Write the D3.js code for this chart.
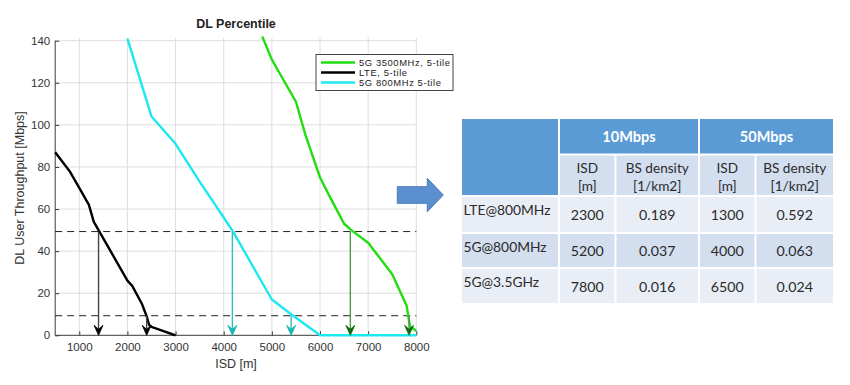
<!DOCTYPE html>
<html><head><meta charset="utf-8">
<script src="https://cdn.jsdelivr.net/npm/d3@7"></script>
<style>body{margin:0;background:#fff;}svg{display:block;}</style>
</head><body>
<svg id="c" width="850" height="385"></svg>
<script>
// ---- data ----
const lteISD = [500, 800, 1050, 1200, 1300, 1400, 1600, 2000, 2100, 2300, 2400, 2450, 2500, 3000];
const lteThr = [87, 78, 68, 62, 54, 50, 42, 26, 23.5, 15, 9, 5, 4, 0];
const g800ISD = [2000, 2500, 3000, 3500, 4000, 4200, 4500, 5000, 5400, 6000, 8000];
const g800Thr = [141, 104, 91, 73, 56, 49, 37, 17, 10, 0, 0];
const g3500ISD = [4800, 5000, 5200, 5500, 5700, 6000, 6200, 6500, 6650, 7000, 7500, 7800, 7870, 7920, 8000];
const g3500Thr = [142, 131, 123, 111, 95, 75, 66, 53, 50, 44, 29, 14, 4, 3.5, 2];
const seriesNames = ["5G 3500MHz, 5-tile", "LTE,  5-tile", "5G 800MHz 5-tile"];
const thresholds = [49.3, 9.3];
const arrowISD = [1400, 2400, 4180, 5400, 6630, 7850];
const arrowFrom = [49.3, 9.3, 49.3, 9.3, 49.3, 9.3];
const xTicks = [1000, 2000, 3000, 4000, 5000, 6000, 7000, 8000];
const yTicks = [0, 20, 40, 60, 80, 100, 120, 140];

const tableHeader1 = ["10Mbps", "50Mbps"];
const tableHeader2 = [["ISD", "[m]"], ["BS density", "[1/km2]"], ["ISD", "[m]"], ["BS density", "[1/km2]"]];
const rowLabels = ["LTE@800MHz", "5G@800MHz", "5G@3.5GHz"];
const isd10 = ["2300", "5200", "7800"];
const dens10 = ["0.189", "0.037", "0.016"];
const isd50 = ["1300", "4000", "6500"];
const dens50 = ["0.592", "0.063", "0.024"];

// ---- chart ----
const svg = d3.select("#c");
const x = d3.scaleLinear().domain([500, 8000]).range([55.2, 416.3]);
const y = d3.scaleLinear().domain([0, 140]).range([335.3, 40.7]);
const font = "'Liberation Sans', Arial, sans-serif";

const g = svg.append("g");
// grid
g.append("g").selectAll("line").data(xTicks).join("line")
  .attr("x1", d => x(d)).attr("x2", d => x(d)).attr("y1", y(0)).attr("y2", y(141.5))
  .attr("stroke", "#dedede").attr("stroke-width", 1);
g.append("g").selectAll("line").data(yTicks.filter(d => d > 0)).join("line")
  .attr("x1", x(500)).attr("x2", x(8000)).attr("y1", d => y(d)).attr("y2", d => y(d))
  .attr("stroke", "#dedede").attr("stroke-width", 1);

// axes
const xAxis = d3.axisBottom(x).tickValues(xTicks).tickSize(-4).tickPadding(8).tickFormat(d3.format("d"));
const yAxis = d3.axisLeft(y).tickValues(yTicks).tickSize(-4).tickPadding(5);
const gx = g.append("g").attr("transform", `translate(0,${y(0)})`).call(xAxis);
const gy = g.append("g").attr("transform", `translate(${x(500)},0)`).call(yAxis);
[gx, gy].forEach(a => {
  a.select(".domain").attr("stroke", "#3a3a3a").attr("stroke-width", 1);
  a.selectAll(".tick line").attr("stroke", "#3a3a3a");
  a.selectAll("text").attr("font-family", font).attr("font-size", 11.5).attr("fill", "#333");
});
gx.select(".domain").attr("d", `M${x(500)},0H${x(8000)}`);
gy.select(".domain").attr("d", `M0,${y(0)}V${y(140)}`);

// dashed thresholds
g.append("g").selectAll("line").data(thresholds).join("line")
  .attr("x1", x(500)).attr("x2", x(8000)).attr("y1", d => y(d)).attr("y2", d => y(d))
  .attr("stroke", "#222").attr("stroke-width", 1).attr("stroke-dasharray", "7,5");

// series
const line = d3.line().x(d => x(d[0])).y(d => y(d[1]));
const series = [
  {isd: g800ISD, thr: g800Thr, color: "#1de8f0"},
  {isd: lteISD, thr: lteThr, color: "#000000"},
  {isd: g3500ISD, thr: g3500Thr, color: "#22dd10"}
];
series.forEach(s => {
  g.append("path").datum(d3.zip(s.isd, s.thr)).attr("d", line)
    .attr("fill", "none").attr("stroke", s.color).attr("stroke-width", 2.4)
    .attr("stroke-linejoin", "round");
});

// vertical arrows
const arrowLine = ["#444", "#444", "#33bdbd", "#33bdbd", "#4d9a4d", "#4d9a4d"];
const arrowHead = ["#000", "#000", "#14b5b5", "#14b5b5", "#0f6a0f", "#0f6a0f"];
arrowISD.forEach((v, i) => {
  const ax = x(v);
  g.append("line").attr("x1", ax).attr("x2", ax).attr("y1", y(arrowFrom[i])).attr("y2", y(0) - 4)
    .attr("stroke", arrowLine[i]).attr("stroke-width", 1.4);
  g.append("path").attr("transform", `translate(${ax},${y(0)})`)
    .attr("d", "M0,0L-4.5,-10L0,-6L4.5,-10Z").attr("fill", arrowHead[i])
    .attr("stroke", arrowHead[i]).attr("stroke-width", 0.8).attr("stroke-linejoin", "round");
});

// title and labels
svg.append("text").attr("x", 236).attr("y", 28).attr("text-anchor", "middle")
  .attr("font-family", font).attr("font-weight", "bold").attr("font-size", 12.5).attr("fill", "#222")
  .text("DL Percentile");
svg.append("text").attr("x", 236).attr("y", 368).attr("text-anchor", "middle")
  .attr("font-family", font).attr("font-size", 12.5).attr("fill", "#333").text("ISD [m]");
svg.append("text").attr("transform", "translate(24,188) rotate(-90)").attr("text-anchor", "middle")
  .attr("font-family", font).attr("font-size", 12.5).attr("fill", "#333").text("DL User Throughput [Mbps]");

// legend
const leg = svg.append("g");
leg.append("rect").attr("x", 316).attr("y", 54.5).attr("width", 137).attr("height", 36)
  .attr("fill", "#fff").attr("stroke", "#444").attr("stroke-width", 1);
const legColors = ["#22dd10", "#000000", "#1de8f0"];
seriesNames.forEach((n, i) => {
  const ly = 62.5 + i * 10;
  leg.append("line").attr("x1", 321).attr("x2", 355).attr("y1", ly).attr("y2", ly)
    .attr("stroke", legColors[i]).attr("stroke-width", 2.4);
  leg.append("text").attr("x", 359).attr("y", ly + 3.4).attr("font-family", font)
    .attr("font-size", 9.4).attr("letter-spacing", 0.6).attr("fill", "#222").text(n);
});

// big blue arrow
svg.append("path")
  .attr("d", "M397.3,186.7H427.3V178.3L443.3,195L427.3,211.7V203.3H397.3Z")
  .attr("fill", "#5b8fcf").attr("stroke", "#4a7bb8").attr("stroke-width", 1);

// ---- table ----
const tf = "Lato, 'Open Sans', sans-serif";
const colX = [[462, 558], [560, 614.5], [616.5, 698], [700, 754.5], [756.5, 833]];
const rowY = [[119, 153.5], [155.5, 195], [197, 232], [234, 267], [269, 303]];
const T = svg.append("g");
const cell = (x0, x1, y0, y1, fill) => T.append("rect").attr("x", x0).attr("y", y0)
  .attr("width", x1 - x0).attr("height", y1 - y0).attr("fill", fill);
cell(462, 558, 119, 195, "#5b9bd5");
cell(560, 698, 119, 153.5, "#5b9bd5");
cell(700, 833, 119, 153.5, "#5b9bd5");
for (let c = 1; c < 5; c++) cell(colX[c][0], colX[c][1], 155.5, 195, "#d3deef");
const bandFill = ["#e9eef6", "#d3deef", "#e9eef6"];
for (let r = 0; r < 3; r++) for (let c = 0; c < 5; c++)
  cell(colX[c][0], colX[c][1], rowY[r + 2][0], rowY[r + 2][1], bandFill[r]);

tableHeader1.forEach((t, i) => {
  const cx = i === 0 ? (560 + 698) / 2 : (700 + 833) / 2;
  T.append("text").attr("x", cx).attr("y", 141.5).attr("text-anchor", "middle")
    .attr("font-family", tf).attr("font-weight", "bold").attr("font-size", 14.5).attr("fill", "#fff").text(t);
});
tableHeader2.forEach((t, i) => {
  const cx = (colX[i + 1][0] + colX[i + 1][1]) / 2;
  t.forEach((s, k) => T.append("text").attr("x", cx).attr("y", 173 + k * 18).attr("text-anchor", "middle")
    .attr("font-family", tf).attr("font-size", 13.6).attr("fill", "#2a2a2a").text(s));
});
const cols = [isd10, dens10, isd50, dens50];
rowLabels.forEach((lab, r) => {
  const [y0, y1] = rowY[r + 2];
  T.append("text").attr("x", 463.5).attr("y", y0 + 17.5).attr("font-family", tf)
    .attr("font-size", 13.8).attr("fill", "#2a2a2a").text(lab);
  cols.forEach((col, c) => {
    const cx = (colX[c + 1][0] + colX[c + 1][1]) / 2;
    T.append("text").attr("x", cx).attr("y", (y0 + y1) / 2 + 5.5).attr("text-anchor", "middle")
      .attr("font-family", tf).attr("font-size", 14.2).attr("fill", "#2a2a2a").text(col[r]);
  });
});
</script>
</body></html>
